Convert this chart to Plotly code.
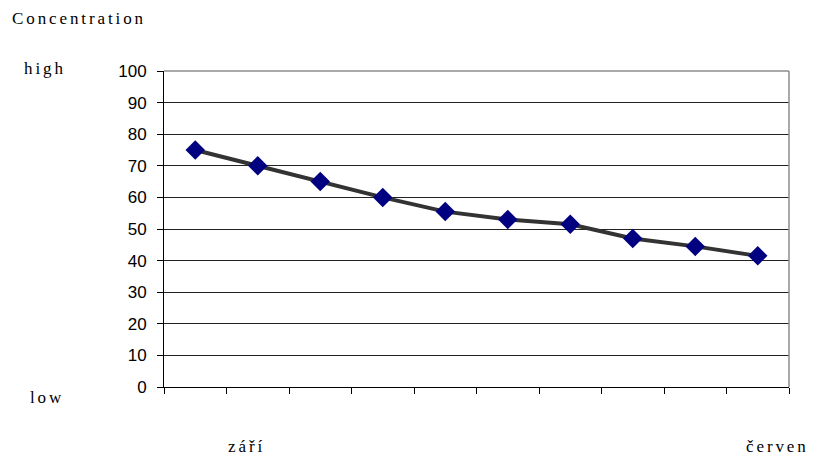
import plotly.graph_objects as go

# Measurement order (one point per sampling) and measured concentration
samples = [str(i) for i in range(1, 11)]
concentration = [75, 70, 65, 60, 55.5, 53, 51.5, 47, 44.5, 41.5]

y_ticks = list(range(0, 101, 10))
start_label = "září"
end_label = "červen"

serif = "Liberation Serif, Times New Roman, serif"
sans = "Liberation Sans, Arial, sans-serif"

fig = go.Figure()
fig.add_trace(go.Scatter(
    x=samples,
    y=concentration,
    mode="lines+markers",
    line=dict(color="#333333", width=4),
    marker=dict(symbol="diamond", size=15, color="#000080",
                line=dict(width=0)),
    showlegend=False,
))

fig.update_layout(
    width=813, height=457,
    margin=dict(l=164, r=24, t=71, b=70),
    paper_bgcolor="white",
    plot_bgcolor="white",
    xaxis=dict(
        type="category",
        range=[-0.5, len(samples) - 0.5],
        tickson="boundaries",
        ticks="outside", ticklen=6, tickcolor="black", tickwidth=1,
        showticklabels=False,
        showgrid=False,
        showline=True, linecolor="black", linewidth=1,
        zeroline=False,
    ),
    yaxis=dict(
        range=[0, 100],
        tickvals=y_ticks,
        ticks="outside", ticklen=6, tickcolor="black", tickwidth=1,
        tickfont=dict(family=sans, size=17, color="black"),
        ticklabelstandoff=7,
        showgrid=True, gridcolor="#222222", gridwidth=1,
        showline=True, linecolor="black", linewidth=1,
        zeroline=False,
    ),
    shapes=[
        dict(type="line", xref="paper", yref="paper", x0=0, x1=1, y0=1, y1=1,
             line=dict(color="#8c8c8c", width=1.5), layer="above"),
        dict(type="line", xref="paper", yref="paper", x0=1, x1=1, y0=0, y1=1,
             line=dict(color="#8c8c8c", width=1.5), layer="above"),
    ],
)

def label(text, x, y, xanchor="left"):
    fig.add_annotation(
        text=f'<span style="letter-spacing:2.9px">{text}</span>',
        xref="paper", yref="paper", x=x, y=y,
        xanchor=xanchor, yanchor="middle", showarrow=False,
        font=dict(family=serif, size=17, color="black"),
    )

# Paper coordinates relative to the plot area (625 px wide, 316 px tall)
label("Concentration", -154 / 625, 1 + 53 / 316)
label("high", -142 / 625, 1 + 2 / 316)
label("low", -136 / 625, -10 / 316)
label(start_label, 82 / 625, -59 / 316, xanchor="center")
label(end_label, 613 / 625, -59 / 316, xanchor="center")

fig.write_html("out.html")
